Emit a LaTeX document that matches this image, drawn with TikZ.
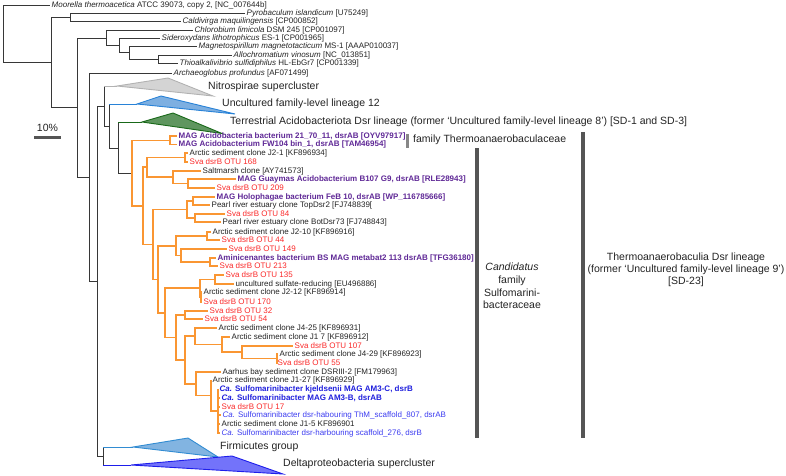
\documentclass[tikz,border=0pt]{standalone}
\usepackage{fontspec}
\setmainfont{Liberation Sans}
\definecolor{txt}{RGB}{35,35,35}
\definecolor{dkline}{RGB}{55,55,55}
\definecolor{orangeC}{RGB}{250,150,50}
\definecolor{purp}{RGB}{95,40,150}
\definecolor{redC}{RGB}{250,40,40}
\definecolor{blueB}{RGB}{30,30,220}
\definecolor{blueL}{RGB}{60,60,240}
\definecolor{grayF}{RGB}{212,212,212}
\definecolor{grayD}{RGB}{178,178,178}
\definecolor{uncF}{RGB}{125,175,225}
\definecolor{uncD}{RGB}{40,130,215}
\definecolor{grnF}{RGB}{95,150,95}
\definecolor{grnD}{RGB}{25,105,25}
\definecolor{firF}{RGB}{130,180,225}
\definecolor{firD}{RGB}{50,140,210}
\definecolor{delF}{RGB}{115,115,250}
\definecolor{delD}{RGB}{30,30,235}
\definecolor{barC}{RGB}{85,85,85}
\definecolor{barL}{RGB}{135,135,135}
\tikzset{
  dk/.style={draw=dkline, line width=0.9pt},
  og/.style={draw=orangeC, line width=1.3pt},
  lbl/.style={anchor=west, inner sep=0pt, inner xsep=1.5pt, font=\fontsize{8}{9}\selectfont, text=txt, text height=5.8pt, text depth=1.6pt},
  big/.style={anchor=west, inner sep=0pt, font=\fontsize{10.5}{12}\selectfont, text=txt, text height=7.6pt, text depth=2.2pt},
  redl/.style={lbl, text=redC},
  purl/.style={lbl, text=purp, font=\fontsize{8}{9}\selectfont\bfseries},
  blbl/.style={lbl, text=blueB, font=\fontsize{8}{9}\selectfont\bfseries},
  bll/.style={lbl, text=blueL},
  clade/.style={line width=0.9pt, line join=miter},
  barline/.style={line width=3.4pt, draw=barC},
}
\begin{document}
\begin{tikzpicture}[x=1pt, y=-1pt]
\useasboundingbox (0,0) rectangle (786,475);
% ---------- internal nodes (outgroup part)
\coordinate (root) at (3,33.5);
\coordinate (n51) at (51,62);
\coordinate (n70) at (70,17);
\coordinate (n77) at (77,107);
\coordinate (n106) at (106,38);
\coordinate (n119) at (119,45.5);
\coordinate (n129) at (129,52.5);
\coordinate (n158) at (158,59);
\coordinate (n89) at (89,177);
\coordinate (n97) at (97,281);
\coordinate (n104) at (104,106.5);
\coordinate (n109) at (109,126);
\coordinate (n118) at (118,148);
\coordinate (n103) at (103,456);
% clade apices
\coordinate (nitA) at (117,86);
\coordinate (uncA) at (137,104);
\coordinate (grnA) at (142,122);
\coordinate (firA) at (133,447);
\coordinate (delA) at (131,465);
% ---------- leaves of outgroups
\node[lbl] (moo) at (50,5) {\textit{Moorella thermoacetica} ATCC 39073, copy 2, [NC\_007644b]};
\node[lbl] (pyr) at (245,13) {\textit{Pyrobaculum islandicum} [U75249]};
\node[lbl] (cal) at (181,21.5) {\textit{Caldivirga maquilingensis} [CP000852]};
\node[lbl] (chl) at (193,30) {\textit{Chlorobium limicola} DSM 245 [CP001097]};
\node[lbl] (sid) at (160,38) {\textit{Sideroxydans lithotrophicus} ES-1 [CP001965]};
\node[lbl] (mag) at (197,46.5) {\textit{Magnetospirillum magnetotacticum} MS-1 [AAAP010037]};
\node[lbl] (all) at (232,55) {\textit{Allochromatium vinosum} [NC\_013851]};
\node[lbl] (thi) at (178,63) {\textit{Thioalkalivibrio sulfidiphilus} HL-EbGr7 [CP001339]};
\node[lbl] (arc) at (172,73) {\textit{Archaeoglobus profundus} [AF071499]};
% ---------- outgroup branches
\draw[dk] (root) |- (moo.west);
\draw[dk] (root) |- (n51);
\draw[dk] (n51) |- (n70);
\draw[dk] (n51) |- (n77);
\draw[dk] (n70) |- (pyr.west);
\draw[dk] (n70) |- (cal.west);
\draw[dk] (n77) |- (n106);
\draw[dk] (n77) |- (n89);
\draw[dk] (n106) |- (chl.west);
\draw[dk] (n106) |- (n119);
\draw[dk] (n119) |- (sid.west);
\draw[dk] (n119) |- (n129);
\draw[dk] (n129) |- (mag.west);
\draw[dk] (n129) |- (n158);
\draw[dk] (n158) |- (all.west);
\draw[dk] (n158) |- (thi.west);
\draw[dk] (n89) |- (arc.west);
\draw[dk] (n89) |- (n97);
\draw[dk] (n97) |- (n104);
\draw[dk] (n97) |- (n103);
\draw[dk] (n104) -- (n104 |- nitA);
\draw[dk] (n104) |- (n109);
\draw[dk] (n109) -- (n109 |- uncA);
\draw[dk] (n109) |- (n118);
\draw[dk] (n118) -- (n118 |- grnA);
\draw[dk] (n103) -- (n103 |- firA);
\draw[dk] (n103) -- (n103 |- delA);
\draw[draw=grayD, line width=0.9pt] (n104 |- nitA) -- (nitA);
\draw[draw=uncD, line width=0.9pt] (n109 |- uncA) -- (uncA);
\draw[draw=grnD, line width=0.9pt] (n118 |- grnA) -- (grnA);
\draw[draw=firD, line width=0.9pt] (n103 |- firA) -- (firA);
\draw[draw=delD, line width=0.9pt] (n103 |- delA) -- (delA);
% ---------- collapsed clades
\draw[clade, draw=grayD, fill=grayF] (nitA) -- (168,78) -- (213,96) -- cycle;
\draw[clade, draw=uncD, fill=uncF] (uncA) -- (161,96) -- (235,114) -- cycle;
\draw[clade, draw=grnD, fill=grnF] (grnA) -- (173,113) -- (222,133.5) -- cycle;
\draw[clade, draw=firD, fill=firF] (firA) -- (188,438) -- (218,457) -- cycle;
\draw[clade, draw=delD, fill=delF] (delA) -- (232,456) -- (283,474) -- cycle;
\node[big] (nitT) at (208,87) {Nitrospirae supercluster};
\node[big] (uncT) at (222,104) {Uncultured family-level lineage 12};
\node[big] (grnT) at (230,122) {Terrestrial Acidobacteriota Dsr lineage (former ‘Uncultured family-level lineage 8’) [SD-1 and SD-3]};
\node[big] (firT) at (220,447) {Firmicutes group};
\node[big] (delT) at (283,464) {Deltaproteobacteria supercluster};
% ---------- orange clade internal nodes
\coordinate (o132) at (132,173);
\coordinate (oa) at (170,140.5);
\coordinate (oee) at (143,206);
\coordinate (oe) at (147,167);
\coordinate (ob) at (185,157.5);
\coordinate (od) at (173,177);
\coordinate (oc) at (188,183.5);
\coordinate (odd) at (153,244.5);
\coordinate (oh) at (187,209.5);
\coordinate (of) at (193,201);
\coordinate (og) at (195,218);
\coordinate (occ) at (158,279.5);
\coordinate (ol) at (176,246);
\coordinate (oi) at (207,236);
\coordinate (ok) at (181,255.5);
\coordinate (oj) at (210,262);
\coordinate (obb) at (165,313);
\coordinate (op) at (200,288);
\coordinate (on) at (215,279.5);
\coordinate (oo) at (201,297);
\coordinate (oaa) at (176,337.5);
\coordinate (or) at (185,315);
\coordinate (oz) at (185,360);
\coordinate (ov) at (195,336);
\coordinate (ou) at (222,344.5);
\coordinate (ot) at (242,352);
\coordinate (os) at (277,358.5);
\coordinate (oy) at (196,384);
\coordinate (ox) at (211,395.5);
\coordinate (ow) at (218,411);
% ---------- orange clade leaves
\node[purl] (L1) at (177,136) {MAG Acidobacteria bacterium 21\_70\_11, dsrAB [OYV97917]};
\node[purl] (L2) at (177,144.5) {MAG Acidobacterium FW104 bin\_1, dsrAB [TAM46954]};
\node[lbl] (L3) at (188,153) {Arctic sediment clone J2-1 [KF896934]};
\node[redl] (L4) at (188,162) {Sva dsrB OTU 168};
\node[lbl] (L5) at (201,171) {Saltmarsh clone [AY741573]};
\node[purl] (L6) at (236,179) {MAG Guaymas Acidobacterium B107 G9, dsrAB [RLE28943]};
\node[redl] (L7) at (215,188) {Sva dsrB OTU 209};
\node[purl] (L8) at (215,197) {MAG Holophagae bacterium FeB 10, dsrAB [WP\_116785666]};
\node[lbl] (L9) at (210,205) {Pearl river estuary clone TopDsr2 [FJ748839[};
\node[redl] (L10) at (225,214) {Sva dsrB OTU 84};
\node[lbl] (L11) at (221,222) {Pearl river estuary clone BotDsr73 [FJ748843]};
\node[lbl] (L12) at (211,232) {Arctic sediment clone J2-10 [KF896916]};
\node[redl] (L13) at (220,240) {Sva dsrB OTU 44};
\node[redl] (L14) at (227,249) {Sva dsrB OTU 149};
\node[purl] (L15) at (216,258) {Aminicenantes bacterium BS MAG metabat2 113 dsrAB [TFG36180]};
\node[redl] (L16) at (218,266) {Sva dsrB OTU 213};
\node[redl] (L17) at (224,275) {Sva dsrB OTU 135};
\node[lbl] (L18) at (234,284) {uncultured sulfate-reducing [EU496886]};
\node[lbl] (L19) at (202,292) {Arctic sediment clone J2-12 [KF896914]};
\node[redl] (L20) at (202,302) {Sva dsrB OTU 170};
\node[redl] (L21) at (208,311) {Sva dsrB OTU 32};
\node[redl] (L22) at (203,319) {Sva dsrB OTU 54};
\node[lbl] (L23) at (217,328) {Arctic sediment clone J4-25 [KF896931]};
\node[lbl] (L24) at (230,337) {Arctic sediment clone J1 7 [KF896912]};
\node[redl] (L25) at (293,346) {Sva dsrB OTU 107};
\node[lbl] (L26) at (278,354) {Arctic sediment clone J4-29 [KF896923]};
\node[redl] (L27) at (276,363) {Sva dsrB OTU 55};
\node[lbl] (L28) at (221,372) {Aarhus bay sediment clone DSRIII-2 [FM179963]};
\node[lbl] (L29) at (211,380) {Arctic sediment clone J1-27 [KF896929]};
\node[blbl] (L30) at (218,389) {\textit{Ca.} Sulfomarinibacter kjeldsenii MAG AM3-C, dsrB};
\node[blbl] (L31) at (220,398) {\textit{Ca.} Sulfomarinibacter MAG AM3-B, dsrAB};
\node[redl] (L32) at (220,407) {Sva dsrB OTU 17};
\node[bll] (L33) at (221,415) {\textit{Ca.} Sulfomarinibacter dsr-habouring ThM\_scaffold\_807, dsrAB};
\node[lbl] (L34) at (220,424) {Arctic sediment clone J1-5 KF896901};
\node[bll] (L35) at (220,433) {\textit{Ca.} Sulfomarinibacter dsr-harbouring scaffold\_276, dsrB};
% ---------- orange clade branches
\draw[dk] (n118) |- (o132);
\draw[og] (o132) |- (oa);
\draw[og] (o132) |- (oee);
\draw[og] (oa) |- (L1.west);
\draw[og] (oa) |- (L2.west);
\draw[og] (oee) |- (oe);
\draw[og] (oee) |- (odd);
\draw[og] (oe) |- (ob);
\draw[og] (oe) |- (od);
\draw[og] (ob) |- (L3.west);
\draw[og] (ob) |- (L4.west);
\draw[og] (od) |- (L5.west);
\draw[og] (od) |- (oc);
\draw[og] (oc) |- (L6.west);
\draw[og] (oc) |- (L7.west);
\draw[og] (odd) |- (oh);
\draw[og] (odd) |- (occ);
\draw[og] (oh) |- (of);
\draw[og] (oh) |- (og);
\draw[og] (of) |- (L8.west);
\draw[og] (of) |- (L9.west);
\draw[og] (og) |- (L10.west);
\draw[og] (og) |- (L11.west);
\draw[og] (occ) |- (ol);
\draw[og] (occ) |- (obb);
\draw[og] (ol) |- (oi);
\draw[og] (ol) |- (ok);
\draw[og] (oi) |- (L12.west);
\draw[og] (oi) |- (L13.west);
\draw[og] (ok) |- (L14.west);
\draw[og] (ok) |- (oj);
\draw[og] (oj) |- (L15.west);
\draw[og] (oj) |- (L16.west);
\draw[og] (obb) |- (op);
\draw[og] (obb) |- (oaa);
\draw[og] (op) |- (on);
\draw[og] (op) |- (oo);
\draw[og] (on) |- (L17.west);
\draw[og] (on) |- (L18.west);
\draw[og] (oo) |- (L19.west);
\draw[og] (oo) |- (L20.west);
\draw[og] (oaa) |- (or);
\draw[og] (oaa) |- (oz);
\draw[og] (or) |- (L21.west);
\draw[og] (or) |- (L22.west);
\draw[og] (oz) |- (ov);
\draw[og] (oz) |- (oy);
\draw[og] (ov) |- (L23.west);
\draw[og] (ov) |- (ou);
\draw[og] (ou) |- (L24.west);
\draw[og] (ou) |- (ot);
\draw[og] (ot) |- (L25.west);
\draw[og] (ot) |- (os);
\draw[og] (os) |- (L26.west);
\draw[og] (os) |- (L27.west);
\draw[og] (oy) |- (L28.west);
\draw[og] (oy) |- (ox);
\draw[og] (ox) |- (L29.west);
\draw[og] (ox) |- (ow);
\foreach \k in {30,...,35} { \draw[og] (ow) |- (L\k.west); }
% ---------- bars and group labels
\coordinate (b1t) at (407,134);
\coordinate (b1b) at (407,148);
\draw[line width=3pt, draw=barL] (b1t) -- (b1b);
\node[big] (famT) at (413,140) {family Thermoanaerobaculaceae};
\coordinate (b2t) at (477,148);
\coordinate (b2b) at (477,438);
\draw[barline] (b2t) -- (b2b);
\node[font=\fontsize{10.5}{12.7}\selectfont, text=txt, align=center, inner sep=0pt] (candT) at (512,286) {\textit{Candidatus}\\family\\Sulfomarini-\\bacteraceae};
\coordinate (b3t) at (583,132);
\coordinate (b3b) at (583,438);
\draw[barline] (b3t) -- (b3b);
\node[font=\fontsize{10.5}{12}\selectfont, text=txt, align=center, inner sep=0pt] (thermT) at (686,270) {Thermoanaerobaculia Dsr lineage\\(former ‘Uncultured family-level lineage 9’)\\{}[SD-23]};
% ---------- scale bar
\node[font=\fontsize{10.5}{12}\selectfont, text=txt, inner sep=0pt] (scT) at (47.5,128) {10\%};
\coordinate (sc1) at (34,137);
\coordinate (sc2) at (61,137);
\draw[line width=3pt, draw=barC] (sc1) -- (sc2);
\end{tikzpicture}
\end{document}
